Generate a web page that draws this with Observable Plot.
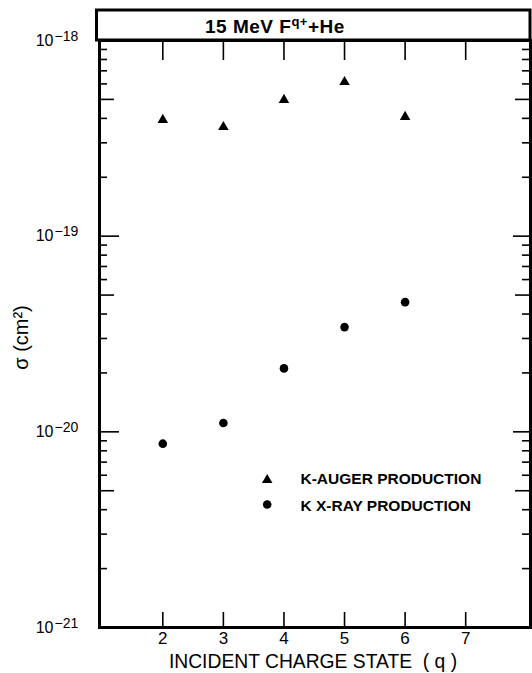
<!DOCTYPE html>
<html><head><meta charset="utf-8">
<script src="https://cdn.jsdelivr.net/npm/d3@7"></script>
<script src="https://cdn.jsdelivr.net/npm/@observablehq/plot@0.6"></script>
<style>body{margin:0;background:#fff} svg{display:block}</style>
</head><body><div id="chart"></div>
<script>
// ---- data ----
const charge = [2, 3, 4, 5, 6];
const augerSigma = [3.93e-19, 3.61e-19, 4.97e-19, 6.14e-19, 4.07e-19];
const xraySigma  = [8.7e-21, 1.11e-20, 2.11e-20, 3.43e-20, 4.6e-20];

const xTicks = [2, 3, 4, 5, 6, 7];
const decadeTicks = [1e-21, 1e-20, 1e-19, 1e-18];
const decadeExponents = ["\u221221", "\u221220", "\u221219", "\u221218"];
const halfDecadeTicks = [5e-21, 5e-20, 5e-19];
const minorTicks = [
  2e-21, 3e-21, 4e-21, 6e-21, 7e-21, 8e-21, 9e-21,
  2e-20, 3e-20, 4e-20, 6e-20, 7e-20, 8e-20, 9e-20,
  2e-19, 3e-19, 4e-19, 6e-19, 7e-19, 8e-19, 9e-19
];
const titleMain = "15 MeV F", titleSup = "q+", titleTail = "+He";
const xLabel = "INCIDENT CHARGE STATE  ( q )";
const yLabel = "\u03C3 (cm\u00B2)";
const legendAuger = "K-AUGER PRODUCTION";
const legendXray = "K X-RAY PRODUCTION";

const auger = charge.map((q, i) => ({q, sigma: augerSigma[i]}));
const xray = charge.map((q, i) => ({q, sigma: xraySigma[i]}));

const FONT = "'Liberation Sans', Arial, Helvetica, sans-serif";
const INK = "black";
const tickW = 1.6;

function yTicks(values, len, side) {
  return Plot.axisY(values, {
    anchor: side, tickSize: len, dx: side === "left" ? len : -len,
    fill: "none", stroke: INK, strokeWidth: tickW, label: null
  });
}
function xTicksMark(side, len) {
  return Plot.axisX(xTicks, {
    anchor: side, tickSize: len, dy: side === "bottom" ? -len : len,
    fill: "none", stroke: INK, strokeWidth: tickW, label: null
  });
}

const plot = Plot.plot({
  width: 532, height: 673,
  marginLeft: 99, marginRight: 2, marginTop: 40, marginBottom: 46,
  style: {fontFamily: FONT, fontSize: "16px", color: "black", background: "white"},
  x: {domain: [0.955, 8.07]},
  y: {type: "log", domain: [1e-21, 1e-18]},
  marks: [
    yTicks(decadeTicks, 20, "left"),
    yTicks(halfDecadeTicks, 15, "left"),
    yTicks(minorTicks, 8, "left"),
    yTicks(decadeTicks, 18, "right"),
    yTicks(halfDecadeTicks, 16, "right"),
    yTicks(minorTicks, 9, "right"),
    xTicksMark("bottom", 15),
    xTicksMark("top", 19),
    Plot.axisX(xTicks, {anchor: "bottom", tickSize: 0, tickPadding: 4, fontSize: 17, fill: INK, label: null}),
    Plot.text(decadeTicks, {y: d => d, text: () => "10", frameAnchor: "left", dx: -46,
      textAnchor: "end", lineAnchor: "middle", fontSize: 16, fill: INK}),
    Plot.text(decadeTicks, {y: d => d, text: (d, i) => decadeExponents[i], frameAnchor: "left", dx: -45,
      textAnchor: "start", lineAnchor: "bottom", fontSize: 14, fill: INK}),
    Plot.text([xLabel], {text: d => d, frameAnchor: "bottom", dx: -2, dy: 34.5, lineAnchor: "middle",
      fontSize: 19.3, fill: INK}),
    Plot.text([yLabel], {text: d => d, frameAnchor: "left", dx: -78, dy: 3.5, rotate: -90,
      textAnchor: "middle", lineAnchor: "middle", fontSize: 20, fill: INK}),
    Plot.frame({strokeWidth: 3, stroke: INK}),
    Plot.dot(auger, {x: "q", y: "sigma", symbol: "triangle", r: 3.9, fill: INK, stroke: "none"}),
    Plot.dot(xray, {x: "q", y: "sigma", symbol: "circle", r: 4.3, fill: INK, stroke: "none"}),
    // legend
    Plot.dot([legendAuger], {frameAnchor: "top-left", dx: 167.7, dy: 439.5, symbol: "triangle", r: 3.9, fill: INK, stroke: "none"}),
    Plot.dot([legendXray], {frameAnchor: "top-left", dx: 167.7, dy: 464, symbol: "circle", r: 4.3, fill: INK, stroke: "none"}),
    Plot.text([legendAuger], {text: d => d, frameAnchor: "top-left", dx: 201, dy: 438.5, textAnchor: "start",
      lineAnchor: "middle", fontSize: 15.5, fontWeight: "bold", fill: INK}),
    Plot.text([legendXray], {text: d => d, frameAnchor: "top-left", dx: 201, dy: 465.5, textAnchor: "start",
      lineAnchor: "middle", fontSize: 15.5, fontWeight: "bold", fill: INK})
  ]
});

const svg = d3.select(plot);

// title box above the frame
const g = svg.insert("g", ":first-child");
g.append("rect").attr("x", 96.5).attr("y", 10).attr("width", 433.5).attr("height", 30)
  .attr("fill", "none").attr("stroke", INK).attr("stroke-width", 3);
const t = g.append("text").attr("x", 205).attr("y", 33).attr("text-anchor", "start")
  .attr("font-family", FONT).attr("font-size", 19).attr("font-weight", "bold").attr("fill", INK)
  .attr("letter-spacing", 0.5);
t.append("tspan").text(titleMain);
t.append("tspan").attr("dy", -7).attr("font-size", 13).text(titleSup);
t.append("tspan").attr("dy", 7).text(titleTail);

document.getElementById("chart").appendChild(plot);
</script>
</body></html>
